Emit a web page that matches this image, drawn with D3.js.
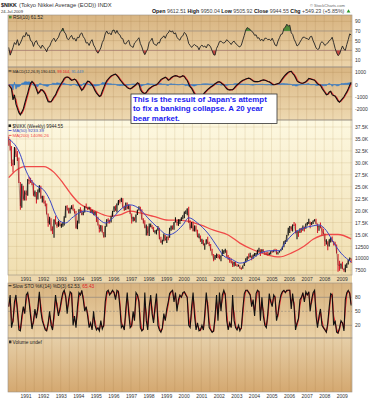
<!DOCTYPE html>
<html><head><meta charset="utf-8">
<script src="https://cdn.jsdelivr.net/npm/d3@7"></script>
<style>
html,body{margin:0;padding:0;background:#fff;}
svg{display:block;font-family:"Liberation Sans",Arial,sans-serif;}
</style></head><body>
<svg id="c" width="377" height="400"></svg>
<script>
// ---------------- DATA (monthly samples, Jan 1990 .. Jul 2009) ----------------
const priceClose = [
34800,33300,29980,29584,33131,31940,31036,25978,20984,25194,22454,23849,
23293,26409,26292,26111,25790,23291,23900,22335,23916,25222,22687,22984,
22023,21339,19346,17391,18348,15951,15910,18061,17399,16768,17683,16925,
17024,17114,18591,20919,20552,19590,20380,21027,20106,19704,16408,17417,
20229,19997,19112,19725,20974,20644,20449,20628,19564,19990,19076,19723,
18650,17053,16140,16807,15437,14518,16678,18117,17913,17655,18744,19868,
20813,20125,21407,22041,21956,22531,20693,20167,21556,20467,21020,19361,
18330,18557,18003,19151,20069,20605,20331,18229,17888,16459,16636,15259,
16628,16831,16527,15641,15670,15830,16378,14108,13406,13564,14883,13842,
14499,14368,15837,16701,16112,17530,17862,17437,17605,17942,18558,18934,
19540,19960,20337,17973,16332,17411,15727,16861,15747,14539,14649,13786,
13844,12884,12999,13934,13262,12969,11861,10714,9775,10367,10697,10543,
9997,10588,11025,11493,11764,10622,9877,9619,9383,8640,9216,8579,
8340,8363,7973,7831,8425,9083,9563,10344,10219,10560,10100,10677,
10784,11042,11715,11762,11236,11858,11326,11082,10824,10771,10899,11489,
11388,11741,11669,11009,11277,11584,11900,12414,13574,13607,14872,16111,
16650,16205,17060,16907,15467,15505,15457,16141,16128,16399,16274,17226,
17383,17604,17288,17400,17876,18138,17249,16569,16786,16738,15681,15308,
13592,13603,12526,13850,14339,13482,13377,13073,11260,8577,8512,8860,
7994,7568,8110,8828,9523,9958,9945];
const priceHigh = [
35500,34900,33500,30700,33300,33200,32500,31100,26000,25600,25200,24200,
24200,26600,27100,26900,26400,25800,24200,23900,24400,25300,25200,23100,
23100,22100,21500,19400,18700,18400,16700,18200,18900,17600,17900,17700,
17300,17600,18800,21000,21100,20600,20600,21100,21300,20400,19900,17900,
20300,20700,20200,19800,20900,21500,20800,20800,20700,20200,19900,19800,
19700,18700,17100,17000,16900,15500,16800,18200,18400,18100,18800,19900,
20900,21100,21500,22200,22400,22700,22600,21000,21700,21700,21300,21100,
19400,18700,18600,19200,20200,20900,20800,20300,18400,18000,17100,16700,
17300,17300,17000,16600,15900,16000,16800,16400,14500,13900,15200,14900,
14600,14600,16400,16900,16900,17600,18600,18000,18200,18200,18600,19000,
19800,20000,20500,20800,18000,17600,17700,16900,16900,16000,15200,14800,
14100,13900,13100,14000,14500,13500,13000,12000,10900,10700,11000,10900,
10800,10600,11900,11700,12000,11700,10700,10300,10000,9400,9300,9300,
8800,8700,8500,8100,8500,9200,10000,10400,11000,11200,10600,10800,
11100,11100,11800,12200,11900,11900,11900,11400,11300,11400,11200,11500,
11600,11800,12000,11900,11300,11600,11900,12500,13600,13800,14900,16400,
16800,16700,17100,17600,17300,15900,15700,16300,16400,16900,16600,17300,
17600,18300,17700,17600,17900,18200,18300,17300,16900,17500,16600,16200,
15200,14000,13600,14000,14400,14600,13600,13500,12900,10900,9500,8900,
9300,7900,8700,9000,9700,10200,9950];
const priceLow = [
33600,32600,29300,28000,29500,31200,30400,25800,20200,20600,22100,22100,
22100,23100,25500,25800,25300,23000,22900,21500,22300,23800,22500,21700,
21500,20900,19200,16600,17100,15700,15100,14300,17100,16400,16600,16700,
16400,16600,16900,18500,20000,19400,19400,20300,20000,19400,16200,16100,
17300,19500,19000,19000,19600,20500,20100,20300,19500,19500,19000,19000,
17600,16900,15400,15600,15400,14300,14400,16600,17300,17300,17500,18700,
19700,19900,19600,21100,21500,21800,20600,19900,20100,20300,20300,19300,
17300,17700,17800,17500,19100,20000,19800,18100,17300,16300,14800,14800,
14700,16500,16200,15500,15200,15000,15800,14000,13200,12900,13600,13700,
13200,13800,14300,15800,16000,16000,17500,16900,16800,17200,17800,18200,
18400,19300,19000,17400,16000,16300,15600,15600,15600,14400,14200,13400,
13000,12700,11800,12900,13000,12600,11600,10600,9400,9700,10100,10000,
9800,9400,10500,10900,11200,10300,9700,9100,9000,8200,8300,8400,
8300,8300,7800,7600,7800,8400,9100,9500,9900,10200,9600,9900,
10500,10400,10800,11400,10500,11100,11300,10700,10800,10600,10700,10800,
11200,11300,11600,10800,10800,11200,11500,11800,12300,13000,13500,14800,
15300,15800,15600,16800,15200,14000,14500,15300,15400,15800,15600,16200,
16900,17200,16300,17000,17200,17700,17200,15300,15800,16300,14800,15100,
12600,12900,11700,12500,13300,13400,12700,12700,11000,7200,7400,7800,
7700,7200,7100,8000,8700,9500,9050];

// moving averages read at sparse dates
const ma50Dates = ["1990-01","1990-09","1990-12","1991-04","1991-08","1992-01","1992-05","1992-09","1992-12","1993-04","1993-08","1994-01","1994-05","1994-10","1995-02","1995-07","1995-10","1996-02","1996-05","1996-12","1997-07","1997-12","1998-07","1999-02","1999-06","1999-12","2000-04","2000-10","2001-05","2001-12","2002-04","2002-10","2003-03","2003-10","2004-05","2004-12","2005-06","2005-10","2006-04","2006-11","2007-05","2007-09","2008-02","2008-07","2008-12","2009-05","2009-07"];
const ma50Values = [35000,31700,29000,26500,25200,24300,22300,19200,17800,17400,18400,19500,19900,19500,18400,17400,17800,19100,20100,21200,20200,18500,16400,14900,15300,17000,18500,17400,15300,12200,10500,9700,9000,9700,11100,11600,11600,13300,15300,16400,16800,17000,15800,13300,11100,9700,9233];
const ma200Dates = ["1990-01","1990-06","1990-12","1992-01","1992-08","1993-02","1993-07","1994-01","1994-05","1994-12","1995-06","1995-10","1996-05","1996-12","1997-07","1998-04","1999-02","1999-08","2000-03","2000-12","2001-09","2002-07","2003-03","2003-12","2004-10","2005-06","2006-02","2006-11","2007-05","2008-03","2008-10","2009-07"];
const ma200Values = [26900,28400,29200,29200,28000,25800,23700,21600,20800,19900,19100,18800,19100,19900,19500,18800,18000,18000,17800,17000,15900,14900,13200,11800,10700,10300,11100,12600,14000,15000,15000,14096];

const rsiValues = [
36,20,27,36,46,42,52,40,45,52,60,58,
67,60,62,50,48,38,47,50,42,39,34,41,
36,33,27,36,38,46,52,55,48,53,57,66,
70,76,68,64,54,52,57,61,53,55,49,57,
56,64,66,58,54,45,46,40,48,52,41,36,
28,24,29,35,46,52,64,70,64,66,62,71,
72,65,71,64,62,55,54,44,43,48,51,40,
38,36,45,48,52,56,44,37,27,21,27,33,
47,50,55,44,42,40,46,45,54,56,60,55,
63,66,71,68,70,64,66,57,53,51,58,60,
67,64,57,44,40,36,40,42,39,38,31,38,
41,37,39,35,42,41,37,29,21,20,34,40,
48,49,46,45,47,52,49,46,42,47,49,44,
42,38,37,41,51,61,72,77,75,73,69,67,
61,62,55,56,50,53,49,55,55,52,53,50,
55,48,41,39,49,56,63,64,75,78,84,80,
82,66,63,53,47,39,41,47,52,57,57,55,
54,52,58,59,50,43,35,32,33,44,48,45,
40,43,45,50,52,57,46,34,25,19,22,31,
39,32,30,42,52,64,61.52];

const macdValues = [
-50,-200,-350,-1250,-850,-1600,-1950,-2300,-2480,-2250,-2000,-1550,
-1100,-700,-250,100,250,100,-80,-400,-750,-600,-420,-450,
-600,-800,-1100,-1400,-1420,-1400,-1200,-1000,-850,-550,-300,-100,
100,300,500,600,620,580,450,340,400,450,350,150,
-50,-300,-490,-300,-100,100,280,250,100,-30,-250,-500,
-700,-850,-980,-900,-550,-250,50,300,450,580,700,760,
820,850,720,580,400,250,100,-30,-120,-250,-330,-350,
-280,-180,-100,0,150,50,-400,-600,-700,-750,-650,-450,
-320,-250,-150,-100,-60,-10,100,250,400,470,540,600,
500,350,420,560,630,700,730,690,640,610,650,720,
650,450,330,50,-200,-320,-550,-780,-920,-970,-990,-1000,
-900,-780,-650,-520,-400,-300,-200,-120,-40,70,150,220,
230,130,40,-40,-200,-350,-430,-440,-430,-420,-300,-150,
-20,60,180,270,350,400,450,490,520,470,380,280,
240,240,240,250,300,350,380,350,300,250,220,130,
30,-20,0,50,90,130,300,480,640,780,900,1000,
1060,1080,900,780,550,300,200,140,110,110,170,230,
350,500,480,420,390,350,200,50,-20,-50,-300,-480,
-650,-840,-800,-600,-550,-850,-900,-950,-1150,-1350,-1450,-1300,
-1150,-1000,-800,-600,-350,-50,190.613];
const macdSignal = [
-20,-125,-275,-800,-1050,-1225,-1775,-2125,-2390,-2365,-2125,-1775,
-1325,-900,-475,-75,175,175,10,-240,-575,-675,-510,-435,
-525,-700,-950,-1250,-1410,-1410,-1300,-1100,-925,-700,-425,-200,
0,200,400,550,610,600,515,395,370,425,400,250,
50,-175,-395,-395,-200,0,190,265,175,35,-140,-375,
-600,-775,-915,-940,-725,-400,-100,175,375,515,640,730,
790,835,785,650,490,325,175,35,-75,-185,-290,-340,
-315,-230,-140,-50,75,100,-175,-500,-650,-725,-700,-550,
-385,-285,-200,-125,-80,-35,45,175,325,435,505,570,
550,425,385,490,595,665,715,710,665,625,630,685,
685,550,390,190,-75,-260,-435,-665,-850,-945,-980,-995,
-950,-840,-715,-585,-460,-350,-250,-160,-80,15,110,185,
225,180,85,0,-120,-275,-390,-435,-435,-425,-360,-225,
-85,20,120,225,310,375,425,470,505,495,425,330,
260,240,240,245,275,325,365,365,325,275,235,175,
80,5,-10,25,70,110,215,390,560,710,840,950,
1030,1070,990,840,665,425,250,170,125,110,140,200,
290,425,490,450,405,370,275,125,15,-35,-175,-390,
-565,-745,-820,-700,-575,-700,-875,-925,-1050,-1250,-1400,-1375,
-1225,-1075,-900,-700,-475,-200,99.164];
const macdHist = [
-30,-75,-75,-450,200,-375,-175,-175,-90,115,125,225,
225,200,225,175,75,-75,-90,-160,-175,75,90,-15,
-75,-100,-150,-150,-10,10,100,100,75,150,125,100,
100,100,100,50,10,-20,-65,-55,30,25,-50,-100,
-100,-125,-95,95,100,100,90,-15,-75,-65,-110,-125,
-100,-75,-65,40,175,150,150,125,75,65,60,30,
30,15,-65,-70,-90,-75,-75,-65,-45,-65,-40,-10,
35,50,40,50,75,-50,-225,-100,-50,-25,50,100,
65,35,50,25,20,25,55,75,75,35,35,30,
-50,-75,35,70,35,35,15,-20,-25,-15,20,35,
-35,-100,-60,-140,-125,-60,-115,-115,-70,-25,-10,-5,
50,60,65,65,60,50,50,40,40,55,40,35,
5,-50,-45,-40,-80,-75,-40,-5,5,5,60,75,
65,40,60,45,40,25,25,20,15,-25,-45,-50,
-20,0,0,5,25,25,15,-15,-25,-25,-15,-45,
-50,-25,10,25,20,20,85,90,80,70,60,50,
30,10,-90,-60,-115,-125,-50,-30,-15,0,30,30,
60,75,-10,-30,-15,-20,-75,-75,-35,-15,-125,-90,
-85,-95,20,100,25,-150,-25,-25,-100,-100,-50,75,
75,75,100,100,125,150,91.449];

const stochK = [
60,85,15,30,70,85,50,10,8,40,60,45,
85,90,70,40,12,30,55,35,60,92,50,30,
20,10,8,25,50,20,10,45,85,60,40,55,
75,90,95,80,45,75,92,88,20,40,15,60,
90,85,95,75,50,60,40,15,25,10,50,20,
10,15,8,30,12,20,70,92,95,85,90,95,
90,75,95,92,60,15,20,10,55,90,45,15,
20,50,30,90,85,70,15,8,12,90,30,10,
60,85,45,25,60,88,20,10,5,15,45,30,
55,70,88,92,95,70,90,50,75,85,80,90,
92,85,80,20,15,60,90,40,10,25,8,10,
20,10,45,90,60,15,10,5,8,40,85,30,
90,50,85,95,85,30,10,25,15,85,30,15,
10,20,8,15,55,88,95,95,90,85,60,75,
40,88,95,92,30,80,40,20,15,45,88,70,
60,85,80,30,45,70,85,92,95,90,95,95,
95,55,88,60,10,25,35,75,80,90,70,92,
85,92,50,75,90,95,40,15,40,55,20,15,
10,5,25,60,88,85,20,30,5,3,15,30,
25,8,75,90,95,88,62.53];
const stochD = [
60,78,36,26,58,80,60,22,9,30,54,50,
73,88,76,49,20,25,48,41,52,82,63,36,
23,13,9,20,42,29,13,34,73,68,46,50,
69,86,93,84,56,66,87,89,40,34,22,46,
81,86,92,81,58,57,46,22,22,14,38,29,
13,13,10,23,17,18,55,85,94,88,88,93,
91,80,89,93,70,28,18,13,41,80,58,24,
18,41,36,72,86,74,31,10,11,67,48,16,
45,77,57,31,49,80,40,13,7,12,36,34,
47,65,83,91,94,77,84,62,67,82,81,87,
91,87,81,38,17,46,81,55,19,20,13,9,
17,13,34,76,69,28,12,7,7,30,71,46,
72,62,74,92,88,46,16,20,18,64,46,19,
12,17,12,13,43,78,93,95,91,86,67,70,
50,74,93,93,49,65,52,26,16,36,75,75,
63,78,81,45,40,62,80,90,94,91,93,95,
95,67,78,68,25,20,32,63,78,87,76,85,
87,90,63,68,85,93,56,22,32,50,30,16,
12,6,19,50,80,86,40,27,12,4,11,26,
26,13,55,86,93,90,65.43];

const ticksRSI = [90,70,50,30,10];
const ticksMACD = [1000,0,-1000,-2000];
const ticksPrice = [7500,10000,12500,15000,17500,20000,22500,25000,27500,30000,32500,35000,37500];
const tickLabelsPrice = ["7500","10000","12500","15.0K","17.5K","20.0K","22.5K","25.0K","27.5K","30.0K","32.5K","35.0K","37.5K"];
const ticksStoch = [80,50,20];
const yearLabels = d3.range(1991, 2010);

const annotation = ["This is the result of Japan's attempt","to fix a banking collapse. A 20 year","bear market."];

// ---------------- LAYOUT ----------------
const X0 = 8, X1 = 352;
const FONT = '"Liberation Sans", Arial, sans-serif';
const svg = d3.select("#c");
const defs = svg.append("defs");
const parseYM = d3.timeParse("%Y-%m");
const months = d3.timeMonth.range(new Date(1990,0,1), new Date(2009,7,1)).map(d => d3.timeDay.offset(d, 14));
const x = d3.scaleTime().domain([new Date(1990,0,1), new Date(2009,7,1)]).range([X0, X1]);
const halfYears = d3.timeMonth.every(6).range(new Date(1990,6,1), new Date(2009,7,1));

const yRSI = d3.scaleLinear().domain([10,90]).range([60,21.3]);
const yMACD = d3.scaleLinear().domain([-2000,1000]).range([109,72.3]);
const yPrice = d3.scaleLinear().domain([7500,37500]).range([270.3,127]);
const yStoch = d3.scaleLinear().domain([20,80]).range([325.3,297.3]);

function grad(id, c0, c1) {
  const g = defs.append("linearGradient").attr("id", id).attr("x1",0).attr("y1",0).attr("x2",0).attr("y2",1);
  g.append("stop").attr("offset","0%").attr("stop-color",c0);
  g.append("stop").attr("offset","100%").attr("stop-color",c1);
}
grad("gRSI", "#d8b481", "#ecd4aa");
grad("gMACD", "#d9b683", "#eed9b1");
grad("gPrice", "#fdf8e0", "#f0deb0");
grad("gStoch", "#d7b380", "#ebd2a7");
grad("gVol", "#e6cfa8", "#d4a870");

function panel(key, y0, y1, gid, vcol) {
  svg.append("rect").attr("x",X0).attr("y",y0).attr("width",X1-X0).attr("height",y1-y0).attr("fill",`url(#${gid})`);
  defs.append("clipPath").attr("id","clip-"+key).append("rect").attr("x",X0).attr("y",y0).attr("width",X1-X0).attr("height",y1-y0);
  const g = svg.append("g").attr("clip-path",`url(#clip-${key})`);
  g.selectAll("line.vg").data(halfYears).join("line").attr("class","vg")
    .attr("x1",d=>x(d)).attr("x2",d=>x(d)).attr("y1",y0).attr("y2",y1)
    .attr("stroke",vcol).attr("stroke-width",0.6);
  return g;
}
function hlines(g, vals, scale, color, w, dash) {
  g.selectAll(null).data(vals).join("line")
    .attr("x1",X0).attr("x2",X1).attr("y1",d=>scale(d)).attr("y2",d=>scale(d))
    .attr("stroke",color).attr("stroke-width",w).attr("stroke-dasharray",dash||null);
}
function rightAxis(scale, vals, fmt) {
  const ax = d3.axisRight(scale).tickValues(vals).tickSize(0).tickPadding(3).tickFormat(fmt);
  const g = svg.append("g").attr("transform",`translate(${X1},0)`).call(ax);
  g.select(".domain").remove();
  g.attr("font-size",5).attr("font-family",FONT);
  g.selectAll("text").attr("fill","#333");
}
function fit(t, w, shrinkOnly) {
  const L = t.node().getComputedTextLength();
  if (L > 0 && (!shrinkOnly || L > w)) t.attr("font-size", (+t.attr("font-size")) * w / L);
  return t;
}

// year band between price and stoch
svg.append("rect").attr("x",X0).attr("y",275).attr("width",X1-X0).attr("height",8).attr("fill","#ecd7ad");

// ---------------- RSI ----------------
const gR = panel("rsi", 15, 67, "gRSI", "rgba(170,130,80,0.35)");
hlines(gR, [90,50,10], yRSI, "rgba(170,130,80,0.45)", 0.6);
hlines(gR, [70,30], yRSI, "#9a8e80", 0.8);
defs.append("clipPath").attr("id","rsiAbove").append("rect").attr("x",X0).attr("y",15).attr("width",X1-X0).attr("height",yRSI(70)-15);
defs.append("clipPath").attr("id","rsiBelow").append("rect").attr("x",X0).attr("y",yRSI(30)).attr("width",X1-X0).attr("height",67-yRSI(30));
gR.append("path").datum(rsiValues).attr("clip-path","url(#rsiAbove)")
  .attr("d", d3.area().x((d,i)=>x(months[i])).y0(yRSI(70)).y1(d=>yRSI(d)))
  .attr("fill","#4f8a3a");
gR.append("path").datum(rsiValues).attr("clip-path","url(#rsiBelow)")
  .attr("d", d3.area().x((d,i)=>x(months[i])).y0(yRSI(30)).y1(d=>yRSI(d)))
  .attr("fill","#c2463f");
gR.append("path").datum(rsiValues)
  .attr("d", d3.line().x((d,i)=>x(months[i])).y(d=>yRSI(d)))
  .attr("fill","none").attr("stroke","#222").attr("stroke-width",0.9);
rightAxis(yRSI, ticksRSI, d=>d);

// ---------------- MACD ----------------
const gM = panel("macd", 67, 120, "gMACD", "rgba(170,130,80,0.35)");
hlines(gM, ticksMACD, yMACD, "rgba(170,130,80,0.45)", 0.6);
gM.append("path").datum(macdHist)
  .attr("d", d3.area().x((d,i)=>x(months[i])).y0(yMACD(0)).y1(d=>yMACD(d)))
  .attr("fill","#3a7cc4").attr("stroke","#3a7cc4").attr("stroke-width",0.6);
gM.append("path").datum(macdSignal)
  .attr("d", d3.line().x((d,i)=>x(months[i])).y(d=>yMACD(d)))
  .attr("fill","none").attr("stroke","#e8222a").attr("stroke-width",1.1);
gM.append("path").datum(macdValues)
  .attr("d", d3.line().x((d,i)=>x(months[i])).y(d=>yMACD(d)))
  .attr("fill","none").attr("stroke","#111").attr("stroke-width",1.1);
rightAxis(yMACD, ticksMACD, d=>d);

// ---------------- PRICE ----------------
const gP = panel("price", 120, 275, "gPrice", "rgba(190,160,100,0.35)");
hlines(gP, ticksPrice, yPrice, "rgba(190,160,100,0.35)", 0.6);
const ma50 = ma50Dates.map((d,i)=>({d:d3.timeDay.offset(parseYM(d),14), v:ma50Values[i]}));
const ma200 = ma200Dates.map((d,i)=>({d:d3.timeDay.offset(parseYM(d),14), v:ma200Values[i]}));
gP.append("path").datum(ma200)
  .attr("d", d3.line().curve(d3.curveMonotoneX).x(d=>x(d.d)).y(d=>yPrice(d.v)))
  .attr("fill","none").attr("stroke","#f04a48").attr("stroke-width",1.3);
const bars = months.map((d,i)=>({d, hi:priceHigh[i], lo:priceLow[i], c:priceClose[i], up: i>0 && priceClose[i]>=priceClose[i-1]}));
gP.selectAll("line.bar").data(bars).join("line").attr("class","bar")
  .attr("x1",d=>x(d.d)).attr("x2",d=>x(d.d))
  .attr("y1",d=>yPrice(d.hi)).attr("y2",d=>yPrice(d.lo))
  .attr("stroke",d=>d.up ? "#111" : "#d8202c").attr("stroke-width",1.1);
gP.append("path").datum(bars)
  .attr("d", d3.line().x(d=>x(d.d)).y(d=>yPrice(d.c)))
  .attr("fill","none").attr("stroke","#111").attr("stroke-width",0.5).attr("opacity",0.6);
gP.append("path").datum(ma50)
  .attr("d", d3.line().curve(d3.curveMonotoneX).x(d=>x(d.d)).y(d=>yPrice(d.v)))
  .attr("fill","none").attr("stroke","#3a46c6").attr("stroke-width",1);
rightAxis(yPrice, ticksPrice, (d,i)=>tickLabelsPrice[i]);

// ---------------- STOCH ----------------
const gS = panel("stoch", 283, 338, "gStoch", "rgba(170,130,80,0.35)");
hlines(gS, [80,20], yStoch, "#9a8e80", 0.8);
hlines(gS, [50], yStoch, "#9a8e80", 0.7, "2,1.5");
gS.append("path").datum(stochD)
  .attr("d", d3.line().x((d,i)=>x(months[i])).y(d=>yStoch(d)))
  .attr("fill","none").attr("stroke","#e02028").attr("stroke-width",1.1);
gS.append("path").datum(stochK)
  .attr("d", d3.line().x((d,i)=>x(months[i])).y(d=>yStoch(d)))
  .attr("fill","none").attr("stroke","#111").attr("stroke-width",1.1);
rightAxis(yStoch, ticksStoch, d=>d);

// ---------------- VOLUME ----------------
panel("vol", 338, 392, "gVol", "rgba(160,115,60,0.3)");

// panel borders
[[15,67],[67,120],[120,275],[283,338],[338,392]].forEach(([a,b])=>{
  svg.append("rect").attr("x",X0).attr("y",a).attr("width",X1-X0).attr("height",b-a)
    .attr("fill","none").attr("stroke","#9a8f84").attr("stroke-width",0.6);
});

// year axes
function yearAxis(ty) {
  const ax = d3.axisBottom(x).tickValues(yearLabels.map(y=>new Date(y,0,1))).tickSize(0).tickPadding(0).tickFormat(d3.timeFormat("%Y"));
  const g = svg.append("g").attr("transform",`translate(0,${ty})`).call(ax);
  g.select(".domain").remove();
  g.attr("font-size",5).attr("font-family",FONT);
  g.selectAll("text").attr("fill","#333");
}
yearAxis(277.8);
yearAxis(394);

// ---------------- LABELS ----------------
function label(xp, yp, size, parts, width, bold, shrinkOnly) {
  const t = svg.append("text").attr("x",xp).attr("y",yp).attr("font-size",size).attr("font-family",FONT)
    .attr("font-weight", bold ? "bold" : null);
  parts.forEach(p => t.append("tspan").text(p[0]).attr("fill",p[1]||"#222").attr("font-weight",p[2]||null));
  if (width) fit(t, width, shrinkOnly);
  return t;
}
label(1, 7.2, 7, [["$NIKK","#111"]], 16, true);
label(19, 7, 5, [["(Tokyo Nikkei Average (EOD)) INDX","#333"]], 93);
label(310, 6.5, 4.5, [["© StockCharts.com","#666"]], 35);
label(1, 13, 5, [["24-Jul-2009","#333"]], 22);
label(152, 13, 5, [["Open","#111","bold"],[" 9612.51  ","#444"],["High","#111","bold"],[" 9950.04  ","#444"],["Low","#111","bold"],[" 9505.92  ","#444"],["Close","#111","bold"],[" 9944.55  ","#444"],["Chg","#111","bold"],[" +549.23 (+5.85%)","#444"]], 193);
svg.append("path").attr("d", d3.symbol(d3.symbolTriangle, 6)()).attr("transform","translate(348.5,11.3)").attr("fill","#2a9a2a");

// panel legends
svg.append("rect").attr("x",9).attr("y",15.8).attr("width",2.6).attr("height",2.6).attr("fill","#4f8a3a");
label(13, 18.8, 4.8, [["RSI(10) 61.52","#222"]], 40, false, true);
svg.append("rect").attr("x",8.5).attr("y",70.5).attr("width",3).attr("height",0.9).attr("fill","#111");
label(12.5, 73, 4.8, [["MACD(12,26,9) 190.613, ","#222"],["99.164, ","#e8222a"],["91.449","#3f7fc4"]], 71, false, true);
svg.append("rect").attr("x",8.5).attr("y",124.4).attr("width",2.6).attr("height",2.6).attr("fill","#222");
label(12.5, 127.6, 4.6, [["$NIKK (Weekly) 9944.55","#222"]], 70, false, true);
svg.append("rect").attr("x",8.5).attr("y",130.1).attr("width",3).attr("height",0.9).attr("fill","#3a46c6");
label(12.5, 132.1, 4.4, [["MA(50) 9233.39","#3a46c6"]], 40, false, true);
svg.append("rect").attr("x",8.5).attr("y",134.9).attr("width",3).attr("height",0.9).attr("fill","#f04a48");
label(12.5, 136.9, 4.4, [["MA(200) 14096.26","#f04a48"]], 51, false, true);
svg.append("rect").attr("x",8.5).attr("y",285.3).attr("width",3).attr("height",0.9).attr("fill","#111");
label(12.5, 287.6, 4.8, [["Slow STO %K(14) %D(3) 62.53, ","#222"],["65.43","#e02028"]], 107, false, true);
svg.append("rect").attr("x",9).attr("y",340.5).attr("width",2.4).attr("height",2.8).attr("fill","#333");
label(12.5, 343.5, 4.8, [["Volume undef","#222"]], 41, false, true);

// ---------------- ANNOTATION ----------------
svg.append("rect").attr("x",131).attr("y",94).attr("width",146).attr("height",29.5)
  .attr("fill","#fff").attr("stroke","#333").attr("stroke-width",0.8);
const a0 = label(133, 101.6, 8, [[annotation[0],"#1a1af0"]], 134, true);
const afs = a0.attr("font-size");
annotation.slice(1).forEach((s,i)=>{
  svg.append("text").attr("x",133).attr("y",111.1 + i*9.5).attr("font-size",afs).attr("font-weight","bold")
    .attr("font-family",FONT).attr("fill","#1a1af0").text(s);
});
</script>
</body></html>
